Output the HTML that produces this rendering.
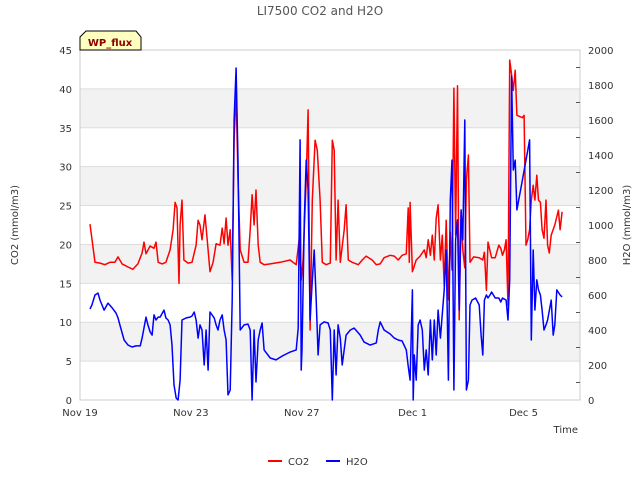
<!DOCTYPE html>
<html><head><meta charset="utf-8"><style>
body{margin:0;background:#fff;}
svg{font-family:"DejaVu Sans","Liberation Sans",sans-serif;}
</style></head><body>
<svg id="chart" width="640" height="480">
<text x="320" y="15" text-anchor="middle" font-size="12" fill="#555">LI7500 CO2 and H2O</text>
<g id="bands"></g>
<g id="grid"></g>
<rect x="80" y="50" width="500" height="350" fill="none" stroke="#ccc"/>
<g id="axes"></g>
<g id="series"></g>
<g>
<path d="M80,50 L80,37 L86,31 L136,31 L141,37 L141,50 Z" fill="#ffffc0" stroke="#000"/>
<text x="110" y="46" text-anchor="middle" font-size="10" font-weight="bold" fill="#8b0000">WP_flux</text>
</g>
<text transform="translate(18,225) rotate(-90)" text-anchor="middle" font-size="10" fill="#333">CO2 (mmol/m3)</text>
<text transform="translate(630,225) rotate(-90)" text-anchor="middle" font-size="10" fill="#333">H2O (mmol/m3)</text>
<text x="578" y="433" text-anchor="end" font-size="10" fill="#333">Time</text>
<g><line x1="268" y1="461" x2="282" y2="461" stroke="#f00" stroke-width="2"/><text x="288" y="465" font-size="10" fill="#333">CO2</text></g>
<g><line x1="326" y1="461" x2="340" y2="461" stroke="#00f" stroke-width="2"/><text x="346" y="465" font-size="10" fill="#333">H2O</text></g>
</svg>
<script>
const xTickLabels=["Nov 19","Nov 23","Nov 27","Dec 1","Dec 5"];
const xTickDays=[0,4,8,12,16];
const leftTicks=[0,5,10,15,20,25,30,35,40,45];
const rightTicks=[0,200,400,600,800,1000,1200,1400,1600,1800,2000];
const co2Days=[0.36,0.54,0.72,0.90,1.08,1.26,1.37,1.52,1.73,1.91,2.09,2.24,2.31,2.38,2.53,2.67,2.74,2.82,2.96,3.10,3.25,3.36,3.43,3.50,3.57,3.61,3.68,3.75,3.90,4.04,4.19,4.26,4.33,4.40,4.51,4.62,4.69,4.80,4.91,5.05,5.13,5.20,5.27,5.34,5.42,5.49,5.56,5.63,5.70,5.78,5.92,6.06,6.14,6.21,6.28,6.35,6.43,6.50,6.64,6.86,7.22,7.58,7.80,7.91,7.98,8.05,8.16,8.23,8.30,8.38,8.48,8.56,8.66,8.74,8.88,9.03,9.10,9.17,9.24,9.31,9.39,9.53,9.60,9.68,9.82,10.04,10.18,10.32,10.54,10.69,10.83,10.97,11.19,11.34,11.48,11.62,11.77,11.84,11.88,11.91,11.99,12.13,12.27,12.42,12.49,12.56,12.64,12.71,12.78,12.85,12.92,13.00,13.07,13.14,13.21,13.29,13.36,13.42,13.49,13.55,13.62,13.68,13.75,13.81,13.88,13.94,14.01,14.07,14.20,14.40,14.53,14.59,14.66,14.72,14.85,14.98,15.11,15.18,15.24,15.31,15.37,15.44,15.50,15.57,15.63,15.70,15.76,15.96,16.02,16.09,16.15,16.22,16.28,16.35,16.41,16.48,16.54,16.61,16.67,16.74,16.81,16.87,16.93,17.00,17.13,17.26,17.32,17.39];
const co2Values=[22.6,17.7,17.6,17.4,17.7,17.7,18.4,17.5,17.1,16.8,17.5,18.9,20.3,18.8,19.8,19.5,20.3,17.7,17.5,17.7,19.3,21.9,25.4,24.7,15.0,22.5,25.7,18.0,17.6,17.7,19.9,23.1,22.5,20.6,23.8,19.3,16.5,17.7,20.1,19.9,22.1,20.1,23.4,19.9,21.9,15.4,33.4,39.8,28.3,19.3,17.7,17.7,21.9,26.4,22.5,27.0,19.9,17.7,17.4,17.5,17.7,18.0,17.4,20.8,15.4,18.0,28.3,37.3,9.0,25.7,33.4,32.1,25.7,17.7,17.4,17.6,33.4,32.1,18.0,25.7,17.7,21.9,25.1,18.0,17.7,17.4,18.0,18.5,18.0,17.4,17.5,18.3,18.6,18.5,18.0,18.6,18.8,24.7,17.7,25.4,16.5,18.0,18.5,19.3,18.3,20.6,18.6,21.2,18.0,23.4,25.1,18.0,21.2,14.7,23.1,12.9,21.6,16.7,40.1,21.2,40.4,10.3,24.2,19.3,17.0,28.3,31.5,17.7,18.4,18.3,18.0,19.0,14.1,20.3,18.3,18.3,19.9,19.5,18.6,19.3,20.6,12.2,43.7,41.8,39.8,42.4,36.6,36.3,36.6,19.9,20.6,21.9,25.7,27.6,25.7,28.9,25.7,25.4,21.9,20.8,25.7,19.9,18.9,21.2,22.5,24.4,21.9,24.2];
const h2oDays=[0.36,0.43,0.54,0.65,0.72,0.87,1.01,1.16,1.30,1.37,1.44,1.59,1.73,1.88,2.02,2.17,2.24,2.38,2.45,2.53,2.60,2.67,2.74,2.82,2.89,3.03,3.10,3.18,3.25,3.32,3.39,3.47,3.54,3.61,3.68,3.83,3.97,4.04,4.12,4.19,4.26,4.33,4.40,4.48,4.55,4.62,4.69,4.84,4.91,4.98,5.05,5.13,5.20,5.27,5.34,5.42,5.49,5.56,5.63,5.70,5.78,5.92,6.06,6.14,6.21,6.28,6.35,6.43,6.50,6.57,6.64,6.86,7.07,7.29,7.44,7.58,7.80,7.87,7.94,7.98,8.01,8.09,8.16,8.23,8.30,8.38,8.45,8.52,8.59,8.66,8.81,8.95,9.03,9.10,9.17,9.24,9.31,9.39,9.46,9.60,9.75,9.89,10.11,10.25,10.47,10.69,10.76,10.83,10.97,11.19,11.34,11.48,11.62,11.77,11.84,11.91,11.99,12.02,12.06,12.13,12.20,12.27,12.35,12.42,12.49,12.56,12.64,12.71,12.78,12.85,12.92,13.00,13.14,13.21,13.29,13.36,13.42,13.49,13.55,13.62,13.68,13.75,13.81,13.88,13.94,14.01,14.07,14.14,14.27,14.40,14.47,14.53,14.59,14.66,14.72,14.79,14.85,14.98,15.11,15.18,15.24,15.37,15.44,15.50,15.57,15.63,15.70,15.76,15.96,16.09,16.22,16.28,16.35,16.41,16.48,16.54,16.61,16.67,16.74,16.81,16.87,17.00,17.07,17.13,17.20,17.32,17.39];
const h2oValues=[520,543,600,611,571,514,554,526,497,469,429,343,314,303,309,309,354,474,429,389,371,486,457,474,474,514,469,457,429,314,86,11,0,114,457,469,474,480,503,457,354,429,400,200,400,171,503,469,429,400,457,486,400,343,29,57,571,1600,1897,1371,400,429,434,400,0,400,103,343,400,440,286,240,229,251,263,274,286,411,1486,171,286,1029,1371,1200,457,686,857,571,257,429,446,440,400,0,400,143,429,354,200,371,400,411,371,331,314,326,400,446,400,377,354,343,337,286,194,114,629,0,257,114,429,457,400,171,286,143,457,229,457,257,514,354,629,857,114,1143,1371,57,914,1029,514,1086,914,1600,57,114,543,571,583,543,371,257,571,600,583,600,617,583,583,560,583,571,457,686,1851,1314,1371,1086,1257,1371,1486,343,857,514,686,629,600,514,400,429,457,571,371,429,629,600,589];

const NS="http://www.w3.org/2000/svg";
const X0=80,X1=580,Y0=400,Y1=50,PXDAY=27.72;
const xs=d=>X0+d*PXDAY;
const yL=v=>Y0-(v/45)*(Y0-Y1);
const yR=v=>Y0-(v/2000)*(Y0-Y1);
function mk(tag,attrs,parent){const e=document.createElementNS(NS,tag);for(const k in attrs)e.setAttribute(k,attrs[k]);parent.appendChild(e);return e;}
const bands=document.getElementById('bands'),grid=document.getElementById('grid'),axes=document.getElementById('axes'),series=document.getElementById('series');
for(let i=0;i<leftTicks.length-1;i++){
  if(i%2===1){const b=mk('rect',{x:X0,y:yL(leftTicks[i+1]),width:X1-X0,height:yL(leftTicks[i])-yL(leftTicks[i+1]),fill:'#f2f2f2'},bands);
  
  }
}
leftTicks.forEach(v=>{
  const l=mk('line',{x1:X0,x2:X1,y1:yL(v),y2:yL(v),stroke:'#ddd'},grid);
  
  
  const t=mk('text',{x:X0-8,y:yL(v)+4,'text-anchor':'end','font-size':10,fill:'#333'},axes);
  t.textContent=v;
  
  
});
rightTicks.forEach(v=>{
  const t=mk('text',{x:X1+8,y:yR(v)+4,'font-size':10,fill:'#333'},axes);
  t.textContent=v;
  
  
});
for(let v=100;v<2000;v+=200){const l=mk('line',{x1:X1,x2:X1-4,y1:yR(v),y2:yR(v),stroke:'#555'},axes);
  
  }
xTickDays.forEach((d,i)=>{
  const t=mk('text',{x:xs(d),y:Y0+16,'text-anchor':'middle','font-size':10,fill:'#333'},axes);
  t.textContent=xTickLabels[i];
  
  
});
const pc=co2Days.map((d,i)=>xs(d).toFixed(1)+','+yL(co2Values[i]).toFixed(1)).join(' ');
const pl1=mk('polyline',{points:pc,fill:'none',stroke:'#f00','stroke-width':1.5,'stroke-linejoin':'round'},series);


const ph=h2oDays.map((d,i)=>xs(d).toFixed(1)+','+yR(h2oValues[i]).toFixed(1)).join(' ');
const pl2=mk('polyline',{points:ph,fill:'none',stroke:'#00f','stroke-width':1.5,'stroke-linejoin':'round'},series);


</script>
</body></html>
